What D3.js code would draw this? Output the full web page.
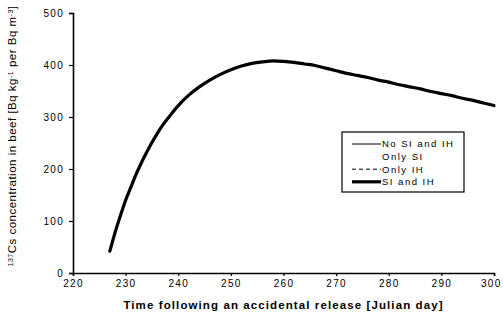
<!DOCTYPE html>
<html>
<head>
<meta charset="utf-8">
<script src="https://cdn.jsdelivr.net/npm/d3@7"></script>
<style>
  body { margin: 0; background: #fff; }
  svg text { font-family: "Liberation Sans", Arial, sans-serif; fill: #000; }
</style>
</head>
<body>
<svg id="chart"></svg>
<script>
// data (all four scenarios overlap almost exactly)
var days = [227, 228, 229, 230, 231, 232, 233, 234, 235, 236, 237, 238, 240, 242, 244, 246, 248, 250,
            252, 254, 256, 258, 260, 262, 264, 266, 268, 270, 272, 274, 276, 278, 280, 282, 284, 286,
            288, 290, 292, 294, 296, 298, 300];
var noSiIh = [42, 78, 110, 140, 165, 190, 212, 232, 251, 268, 284, 297, 322, 342, 358, 371, 382, 391,
              398, 403, 406, 408, 407, 405, 402, 399, 394, 389, 384, 380, 376, 371, 367, 362, 358, 354,
              349, 345, 341, 336, 332, 327, 322];
var onlySi = [42, 78, 110, 140, 165, 190, 212, 232, 251, 268, 284, 297, 322, 342, 358, 371, 382, 391,
              398, 403, 406, 408, 407, 405, 402, 399, 394, 389, 384, 380, 376, 371, 367, 362, 358, 354,
              349, 345, 341, 336, 332, 327, 322];
var onlyIh = [42, 78, 110, 140, 165, 190, 212, 232, 251, 268, 284, 297, 322, 342, 358, 371, 382, 391,
              398, 403, 406, 408, 407, 405, 402, 399, 394, 389, 384, 380, 376, 371, 367, 362, 358, 354,
              349, 345, 341, 336, 332, 327, 322];
var siIh = [42, 78, 110, 140, 165, 190, 212, 232, 251, 268, 284, 297, 322, 342, 358, 371, 382, 391,
            398, 403, 406, 408, 407, 405, 402, 399, 394, 389, 384, 380, 376, 371, 367, 362, 358, 354,
            349, 345, 341, 336, 332, 327, 322];
var xTicks = [220, 230, 240, 250, 260, 270, 280, 290, 300];
var yTicks = [0, 100, 200, 300, 400, 500];

var series = [
    {label: "No SI and IH", values: noSiIh, width: 1, dash: null, legendLine: true},
    {label: "Only SI", values: onlySi, width: 1, dash: "1,3", legendLine: false},
    {label: "Only IH", values: onlyIh, width: 1, dash: "4,3", legendLine: true},
    {label: "SI and IH", values: siIh, width: 3.2, dash: null, legendLine: true}
];

var width = 503, height = 320;
var margin = {left: 73, right: 9, top: 13, bottom: 47};

var svg = d3.select("#chart").attr("width", width).attr("height", height);

var x = d3.scaleLinear().domain([220, 300]).range([margin.left, width - margin.right]);
var y = d3.scaleLinear().domain([0, 500]).range([height - margin.bottom, margin.top]);

// axes
var xAxis = svg.append("g")
    .attr("transform", "translate(0," + y(0) + ")")
    .call(d3.axisBottom(x).tickValues(xTicks).tickSize(3).tickPadding(4).tickFormat(d3.format("d")));
var yAxis = svg.append("g")
    .attr("transform", "translate(" + x(220) + ",0)")
    .call(d3.axisLeft(y).tickValues(yTicks).tickSize(4).tickPadding(5).tickFormat(d3.format("d")));

[xAxis, yAxis].forEach(function (g) {
    g.select(".domain").attr("stroke", "#000").attr("stroke-width", 1.6);
    g.selectAll(".tick line").attr("stroke", "#000").attr("stroke-width", 1.2);
    g.selectAll(".tick text")
        .style("font-size", "10px")
        .style("letter-spacing", "1.3px")
        .style("font-family", "'Liberation Sans', Arial, sans-serif");
});
// keep the last x label inside the frame
xAxis.selectAll(".tick text")
    .filter(function (d) { return d === 300; })
    .attr("text-anchor", "end")
    .attr("x", 7);

// lines
var line = d3.line()
    .x(function (d, i) { return x(days[i]); })
    .y(function (d) { return y(d); })
    .curve(d3.curveMonotoneX);

svg.selectAll("path.series")
    .data(series)
    .enter()
    .append("path")
    .attr("class", "series")
    .attr("d", function (s) { return line(s.values); })
    .attr("fill", "none")
    .attr("stroke", "#000")
    .attr("stroke-width", function (s) { return s.width; })
    .attr("stroke-dasharray", function (s) { return s.dash; })
    .attr("stroke-linecap", "round");

// legend
var legend = svg.append("g").attr("transform", "translate(342,132)");
legend.append("rect")
    .attr("width", 122).attr("height", 60)
    .attr("fill", "#fff").attr("stroke", "#000").attr("stroke-width", 1.2);

var items = legend.selectAll("g.item")
    .data(series)
    .enter()
    .append("g")
    .attr("class", "item")
    .attr("transform", function (d, i) { return "translate(0," + (12 + i * 12.6) + ")"; });

items.filter(function (d) { return d.legendLine; })
    .append("line")
    .attr("x1", 10).attr("x2", 39)
    .attr("stroke", "#000")
    .attr("stroke-width", function (d) { return d.width; })
    .attr("stroke-dasharray", function (d) { return d.dash; });

items.append("text")
    .attr("x", 40)
    .attr("dy", "0.35em")
    .style("font-size", "9.5px")
    .style("letter-spacing", "1.5px")
    .text(function (d) { return d.label; });

// axis titles
svg.append("text")
    .attr("x", (x(220) + x(300)) / 2)
    .attr("y", 309)
    .attr("text-anchor", "middle")
    .style("font-size", "11.5px")
    .style("font-weight", "bold")
    .style("letter-spacing", "1.1px")
    .text("Time following an accidental release [Julian day]");

var yTitle = svg.append("text")
    .attr("transform", "translate(16," + 136 + ") rotate(-90)")
    .attr("text-anchor", "middle")
    .style("font-size", "11.5px")
    .style("letter-spacing", "0.5px");
yTitle.append("tspan").attr("baseline-shift", "super").style("font-size", "7px").text("137");
yTitle.append("tspan").text("Cs concentration in beef [Bq kg");
yTitle.append("tspan").attr("baseline-shift", "super").style("font-size", "7px").text("-1");
yTitle.append("tspan").text(" per Bq m");
yTitle.append("tspan").attr("baseline-shift", "super").style("font-size", "7px").text("-3");
yTitle.append("tspan").text("]");
</script>
</body>
</html>
